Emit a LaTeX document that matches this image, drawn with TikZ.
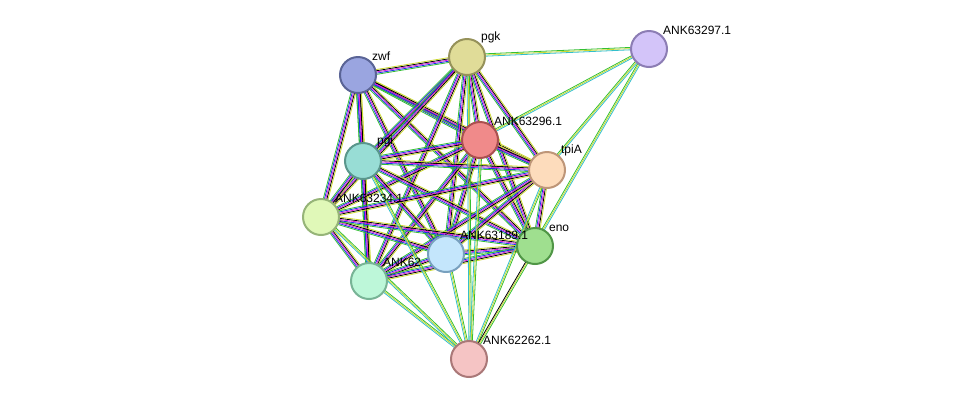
\documentclass[tikz,border=0pt]{standalone}
\usepackage{fontspec}
\setmainfont{Liberation Sans}
\usetikzlibrary{calc, backgrounds}
\definecolor{sgreen}{rgb}{0.2,0.75,0.2}
\definecolor{sblue}{rgb}{0.1,0.2,0.9}
\definecolor{smag}{rgb}{0.85,0.1,0.85}
\definecolor{syel}{rgb}{0.8,0.85,0.2}
\definecolor{scyan}{rgb}{0.2,0.75,0.8}
\newcommand\lnk[3]{%
  \foreach \c [count=\i] in {#3}{%
    \pgfmathsetmacro\o{(\i-3)*0.9}
    \draw[\c, line width=0.6pt] ($(#1.center)!\o pt!90:(#2.center)$) -- ($(#2.center)!\o pt!-90:(#1.center)$);
  }}
\begin{document}
\begin{tikzpicture}[x=0.75pt, y=-0.75pt,
    prot/.style={circle, draw, line width=1.5pt, minimum size=27pt, inner sep=0pt},
    every label/.style={font=\fontsize{9}{10}\selectfont, inner sep=1pt, label distance=-1pt}]
    \useasboundingbox (0,0) rectangle (975,405);
    \node[prot, fill={rgb,255:red,154;green,165;blue,224}, draw={rgb,255:red,90;green,100;blue,150}, label=45:zwf] (zwf) at (358,75) {};
    \node[prot, fill={rgb,255:red,224;green,220;blue,152}, draw={rgb,255:red,150;green,146;blue,90}, label=45:pgk] (pgk) at (467,57) {};
    \node[prot, fill={rgb,255:red,211;green,196;blue,249}, draw={rgb,255:red,140;green,125;blue,180}, label=45:ANK63297.1] (a297) at (649,49) {};
    \node[prot, fill={rgb,255:red,240;green,138;blue,138}, draw={rgb,255:red,170;green,80;blue,80}, label=45:ANK63296.1] (a296) at (480,140) {};
    \node[prot, fill={rgb,255:red,152;green,221;blue,213}, draw={rgb,255:red,90;green,150;blue,140}, label=45:pgi] (pgi) at (363,161) {};
    \node[prot, fill={rgb,255:red,253;green,220;blue,188}, draw={rgb,255:red,190;green,150;blue,120}, label=45:tpiA] (tpia) at (547,170) {};
    \node[prot, fill={rgb,255:red,224;green,248;blue,184}, draw={rgb,255:red,150;green,180;blue,120}, label=45:ANK63234.1] (a234) at (321,217) {};
    \node[prot, fill={rgb,255:red,159;green,223;blue,143}, draw={rgb,255:red,80;green,150;blue,70}, label=45:eno] (eno) at (535,246) {};
    \node[prot, fill={rgb,255:red,189;green,247;blue,217}, draw={rgb,255:red,120;green,180;blue,150}, label=45:ANK62] (a62) at (369,281) {};
    \node[prot, fill={rgb,255:red,196;green,230;blue,252}, draw={rgb,255:red,120;green,160;blue,190}, label=45:ANK63189.1] (a189) at (446,254) {};
    \node[prot, fill={rgb,255:red,245;green,196;blue,196}, draw={rgb,255:red,170;green,120;blue,120}, label=45:ANK62262.1] (a262) at (469,359) {};
    \begin{scope}[on background layer]
        % dense core
        \foreach \a/\b in {zwf/pgk, zwf/a296, zwf/pgi, zwf/tpia, zwf/a234, zwf/a189, zwf/eno, zwf/a62,
                           pgk/a296, pgk/pgi, pgk/tpia, pgk/a234, pgk/a189, pgk/eno, pgk/a62,
                           a296/pgi, a296/tpia, a296/a234, a296/a189, a296/eno, a296/a62,
                           pgi/tpia, pgi/a234, pgi/a189, pgi/eno, pgi/a62,
                           tpia/a234, tpia/a189, tpia/eno, tpia/a62,
                           a234/a189, a234/eno, a234/a62,
                           a189/eno, a189/a62, eno/a62}
            {\lnk{\a}{\b}{sgreen, sblue, smag, black, syel}}
        % outer links
        \foreach \a/\b in {a297/pgk, a297/a296, a297/tpia, a297/eno,
                           a262/a189, a262/a62, a262/a234, a262/pgi, a262/pgk, a262/a296, a262/tpia}
            {\lnk{\a}{\b}{sgreen, syel, scyan}}
        \lnk{a262}{eno}{sgreen, syel, black}
    \end{scope}
\end{tikzpicture}
\end{document}
